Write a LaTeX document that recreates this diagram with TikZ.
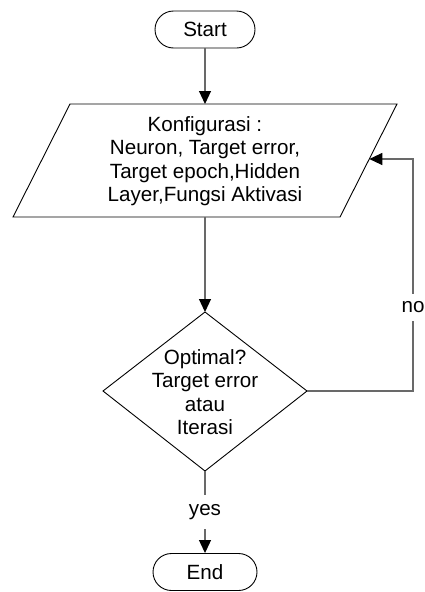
\documentclass[tikz,border=0pt]{standalone}
\usepackage{fontspec}
\setmainfont{Liberation Sans}
\usetikzlibrary{arrows.meta}
\begin{document}
\begin{tikzpicture}[x=1pt,y=-1pt,
  every node/.style={font=\fontsize{20.6}{23.5}\selectfont},
  term/.style={draw=black,line width=0.9pt,rounded corners=18.5pt,minimum height=37pt,inner sep=0pt},
  shapeline/.style={draw=black,line width=0.9pt},
  conn/.style={draw={rgb,255:red,105;green,105;blue,105},line width=1.1pt},
  tip/.style={-{Triangle[length=13pt,width=12pt,color=black,fill=black]}},
  lbl/.style={fill=white,inner xsep=2pt,inner ysep=8pt}]
\useasboundingbox (0,0) rectangle (424,592);

% terminals
\node[term,minimum width=100pt] (start) at (205,29.5) {Start};
\node[term,minimum width=104pt] (end) at (205,572) {End};

% parallelogram
\coordinate (p1) at (70,104);
\coordinate (p2) at (397,104);
\coordinate (p3) at (340,217);
\coordinate (p4) at (13,217);
\draw[shapeline] (p1) -- (p2) -- (p3) -- (p4) -- cycle;
\node[align=center,inner sep=0pt] (konf) at (205,161)
  {Konfigurasi :\\Neuron, Target error,\\Target epoch,Hidden\\Layer,Fungsi Aktivasi};
\coordinate (ptop) at (205,104);
\coordinate (pbot) at (205,217);
\coordinate (pin) at (369.3,159);

% decision
\coordinate (dt) at (205,312);
\coordinate (dr) at (307,391);
\coordinate (db) at (205,471);
\coordinate (dl) at (103,391);
\draw[shapeline] (dt) -- (dr) -- (db) -- (dl) -- cycle;
\node[align=center,inner sep=0pt] (dec) at (205,392)
  {Optimal?\\Target error\\atau\\Iterasi};

% loop corners
\coordinate (c1) at (413,391);
\coordinate (c2) at (413,159);

% connectors
\draw[conn,tip] (start) -- (ptop);
\draw[conn,tip] (pbot) -- (dt);
\draw[conn,tip] (db) -- node[lbl,inner ysep=9pt] (yes) {yes} (end);
\draw[conn,tip] (dr) -- (c1) -- node[lbl,pos=0.36] (no) {no} (c2) -- (pin);
\end{tikzpicture}
\end{document}
